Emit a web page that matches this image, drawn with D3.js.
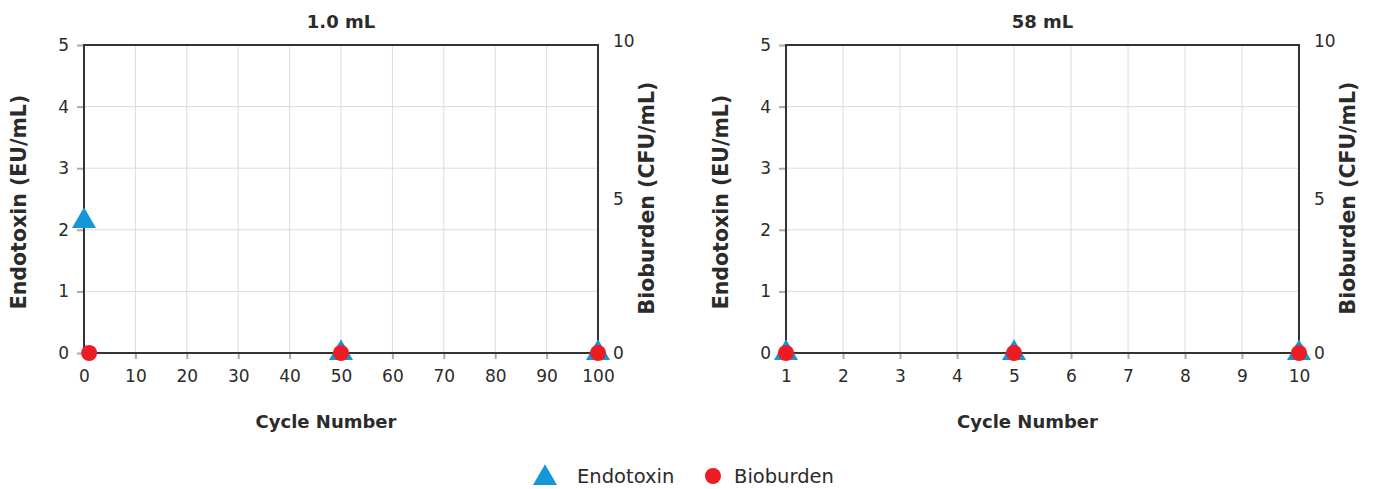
<!DOCTYPE html>
<html><head><meta charset="utf-8">
<script src="https://cdn.jsdelivr.net/npm/d3@7"></script>
<style>
body{margin:0;background:#fff;}
text{font-family:"DejaVu Sans","Open Sans",sans-serif;fill:#2b2b2b;}
</style></head>
<body><svg id="c" width="1374" height="489"></svg>
<script>
// ---- data ----
const panelTitles = ["1.0 mL", "58 mL"];
const xDomains = [[0, 100], [1, 10]];
const xTicksLeft = [0, 10, 20, 30, 40, 50, 60, 70, 80, 90, 100];
const xTicksRight = [1, 2, 3, 4, 5, 6, 7, 8, 9, 10];
const yTicksEndotoxin = [0, 1, 2, 3, 4, 5];
const yTicksBioburden = [0, 5, 10];
const endoCyclesLeft = [0, 50, 100];
const endoValuesLeft = [2.14, 0, 0];
const bioCyclesLeft = [1, 50, 100];
const bioValuesLeft = [0, 0, 0];
const endoCyclesRight = [1, 5, 10];
const endoValuesRight = [0, 0, 0];
const bioCyclesRight = [1, 5, 10];
const bioValuesRight = [0, 0, 0];
const seriesNames = ["Endotoxin", "Bioburden"];

const BLUE = "#1597d5", RED = "#ec1c24";
const svg = d3.select("#c");

const panels = [
  {x0: 84, x1: 598, title: panelTitles[0], dom: xDomains[0], ticks: xTicksLeft,
   endo: endoCyclesLeft.map((c,i)=>({c, v: endoValuesLeft[i]})),
   bio: bioCyclesLeft.map((c,i)=>({c, v: bioValuesLeft[i]}))},
  {x0: 786, x1: 1299, title: panelTitles[1], dom: xDomains[1], ticks: xTicksRight,
   endo: endoCyclesRight.map((c,i)=>({c, v: endoValuesRight[i]})),
   bio: bioCyclesRight.map((c,i)=>({c, v: bioValuesRight[i]}))}
];
const yTop = 45, yBot = 353;

panels.forEach(p => {
  const x = d3.scaleLinear().domain(p.dom).range([p.x0, p.x1]);
  const yL = d3.scaleLinear().domain([0, 5]).range([yBot, yTop]);
  const yR = d3.scaleLinear().domain([0, 10]).range([yBot, yTop]);
  const g = svg.append("g");

  // gridlines
  g.append("g").selectAll("line").data(p.ticks).join("line")
    .attr("x1", d => x(d)).attr("x2", d => x(d)).attr("y1", yTop).attr("y2", yBot)
    .attr("stroke", "#dcdcdc").attr("stroke-width", 1);
  g.append("g").selectAll("line").data(yTicksEndotoxin).join("line")
    .attr("x1", p.x0).attr("x2", p.x1).attr("y1", d => yL(d)).attr("y2", d => yL(d))
    .attr("stroke", "#dcdcdc").attr("stroke-width", 1);

  // axes
  const ax = g.append("g").attr("transform", `translate(0,${yBot})`)
    .call(d3.axisBottom(x).tickValues(p.ticks).tickSize(6).tickPadding(11).tickFormat(d3.format("d")));
  ax.select(".domain").remove();
  ax.selectAll(".tick line").attr("stroke", "#aaa").attr("stroke-width", 2);
  ax.selectAll("text").attr("font-size", 17).attr("fill", "#2b2b2b").style("font-family", null);

  const ayl = g.append("g").attr("transform", `translate(${p.x0},0)`)
    .call(d3.axisLeft(yL).tickValues(yTicksEndotoxin).tickSize(7).tickPadding(8).tickFormat(d3.format("d")));
  ayl.select(".domain").remove();
  ayl.selectAll(".tick line").attr("stroke", "#aaa").attr("stroke-width", 2);
  ayl.selectAll("text").attr("font-size", 17).attr("fill", "#2b2b2b").style("font-family", null);

  const ayr = g.append("g").attr("transform", `translate(${p.x1},0)`)
    .call(d3.axisRight(yR).tickValues(yTicksBioburden).tickSize(0).tickPadding(15).tickFormat(d3.format("d")));
  ayr.select(".domain").remove();
  ayr.selectAll("text").attr("font-size", 17).attr("fill", "#2b2b2b").style("font-family", null)
    .attr("dy", d => d === 10 ? "0.1em" : "0.32em");

  // frame
  g.append("rect").attr("x", p.x0).attr("y", yTop).attr("width", p.x1 - p.x0).attr("height", yBot - yTop)
    .attr("fill", "none").attr("stroke", "#333").attr("stroke-width", 2);

  // titles
  g.append("text").attr("x", (p.x0 + p.x1) / 2).attr("y", 28).attr("text-anchor", "middle")
    .attr("font-size", 18).attr("font-weight", "bold").text(p.title);
  g.append("text").attr("x", (p.x0 + p.x1) / 2 - 15).attr("y", 428).attr("text-anchor", "middle")
    .attr("font-size", 18).attr("font-weight", "bold").text("Cycle Number");
  g.append("text").attr("transform", `translate(${p.x0 - 58},${(yTop + yBot) / 2 + 3}) rotate(-90)`)
    .attr("text-anchor", "middle").attr("font-size", 20.5).attr("font-weight", "bold").text("Endotoxin (EU/mL)");
  g.append("text").attr("transform", `translate(${p.x1 + 56},${(yTop + yBot) / 2 - 1}) rotate(-90)`)
    .attr("text-anchor", "middle").attr("font-size", 20.5).attr("font-weight", "bold").text("Bioburden (CFU/mL)");

  // markers
  const tri = d3.symbol().type(d3.symbolTriangle).size(250);
  g.append("g").selectAll("path").data(p.endo).join("path")
    .attr("d", tri).attr("transform", d => `translate(${x(d.c)},${yL(d.v)})`).attr("fill", BLUE);
  g.append("g").selectAll("circle").data(p.bio).join("circle")
    .attr("cx", d => x(d.c)).attr("cy", d => yR(d.v)).attr("r", 8).attr("fill", RED);
});

// legend
const lg = svg.append("g");
lg.append("path").attr("d", d3.symbol().type(d3.symbolTriangle).size(250)).attr("transform", "translate(545,478)").attr("fill", BLUE);
lg.append("text").attr("x", 577).attr("y", 483).attr("font-size", 19.5).text(seriesNames[0]);
lg.append("circle").attr("cx", 713).attr("cy", 476).attr("r", 8).attr("fill", RED);
lg.append("text").attr("x", 734).attr("y", 483).attr("font-size", 19.5).text(seriesNames[1]);
</script></body></html>
